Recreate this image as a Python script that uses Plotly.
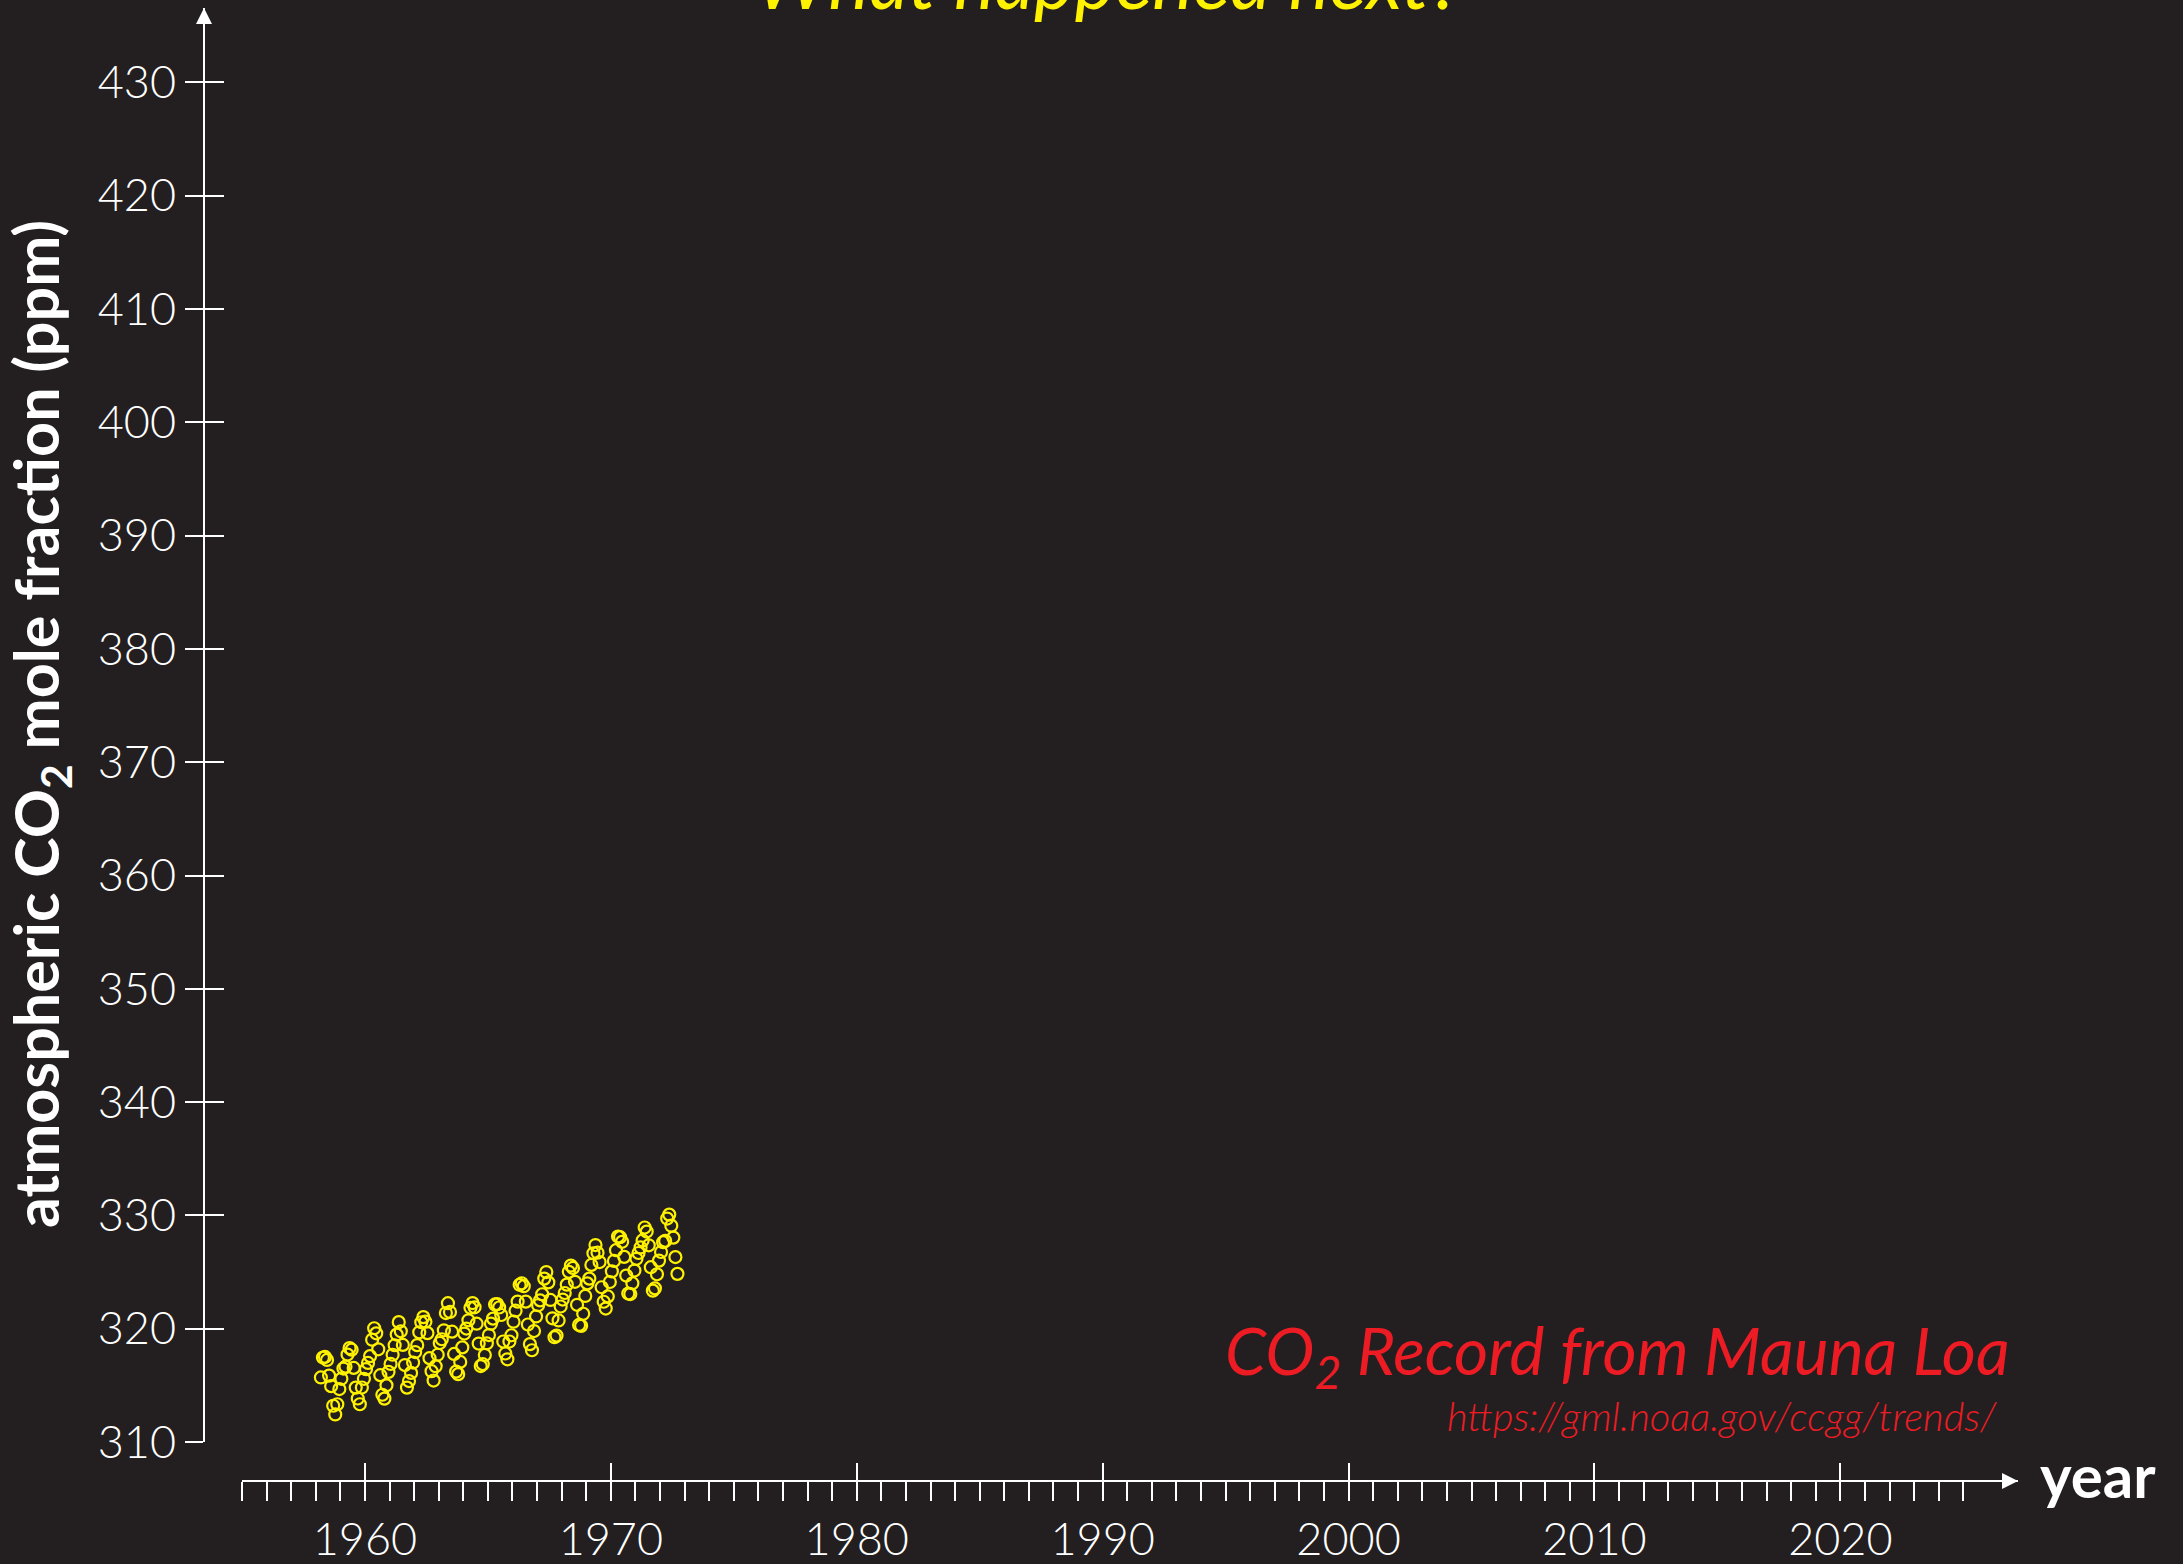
import plotly.graph_objects as go

# Monthly mean atmospheric CO2 at Mauna Loa (ppm)
co2_1958 = [315.70, 317.45, 317.51, 317.24, 315.86, 314.93, 313.20, 312.43, 313.33, 314.67]  # Mar-Dec
co2_1959 = [315.58, 316.48, 316.65, 317.72, 318.29, 318.15, 316.54, 314.80, 313.84, 313.33, 314.81, 315.58]
co2_1960 = [316.43, 316.98, 317.58, 319.03, 320.04, 319.59, 318.18, 315.90, 314.17, 313.83, 315.00, 316.19]
co2_1961 = [316.89, 317.70, 318.54, 319.48, 320.58, 319.77, 318.57, 316.79, 314.80, 315.38, 316.10, 317.01]
co2_1962 = [317.94, 318.55, 319.68, 320.57, 321.02, 320.62, 319.61, 317.40, 316.25, 315.42, 316.69, 317.70]
co2_1963 = [318.74, 319.07, 319.86, 321.38, 322.25, 321.48, 319.74, 317.77, 316.21, 315.99, 317.07, 318.35]
co2_1964 = [319.57, 320.01, 320.74, 321.84, 322.26, 321.89, 320.44, 318.69, 316.70, 316.87, 317.68, 318.71]
co2_1965 = [319.44, 320.44, 320.89, 322.14, 322.17, 321.87, 321.21, 318.87, 317.81, 317.30, 318.87, 319.42]
co2_1966 = [320.62, 321.59, 322.39, 323.87, 324.01, 323.75, 322.39, 320.37, 318.64, 318.10, 319.79, 321.08]
co2_1967 = [322.07, 322.50, 323.04, 324.42, 325.00, 324.09, 322.54, 320.92, 319.25, 319.39, 320.73, 321.96]
co2_1968 = [322.57, 323.15, 323.89, 325.02, 325.57, 325.36, 324.14, 322.11, 320.33, 320.25, 321.32, 322.89]
co2_1969 = [324.00, 324.42, 325.63, 326.66, 327.38, 326.71, 325.88, 323.66, 322.38, 321.78, 322.85, 324.12]
co2_1970 = [325.06, 325.98, 326.93, 328.13, 328.08, 327.67, 326.34, 324.69, 323.10, 323.06, 324.01, 325.13]
co2_1971 = [326.17, 326.68, 327.17, 327.79, 328.93, 328.57, 327.36, 325.43, 323.36, 323.56, 324.80, 326.01]
co2_1972 = [326.77, 327.63, 327.75, 329.72, 330.07, 329.09, 328.04, 326.32, 324.84]  # Jan-Sep

years = list(range(1958, 1973))
yearly = [co2_1958, co2_1959, co2_1960, co2_1961, co2_1962, co2_1963, co2_1964, co2_1965,
          co2_1966, co2_1967, co2_1968, co2_1969, co2_1970, co2_1971, co2_1972]
first_month = {1958: 3}

# Axis ticks
y_ticks = list(range(310, 431, 10))
x_major = list(range(1960, 2021, 10))
x_minor = list(range(1955, 2026))

# Decimal dates at mid-month
dates, ppm = [], []
for yr, vals in zip(years, yearly):
    m0 = first_month.get(yr, 1)
    for i, v in enumerate(vals):
        dates.append(yr + (m0 + i - 0.5) / 12.0)
        ppm.append(v)

BG = "#231f20"
FG = "#ffffff"
YELLOW = "#fff200"
RED = "#ed1c24"
FONT = "Lato"

W, H = 2183, 1564
ML, MR, MT, MB = 204, 165, 8, 83
PW, PH = W - ML - MR, H - MT - MB
x_dom = [38 / PW, 1]
y_dom = [39 / PH, 1]
x_rng = [1955, 1955 + (PW - 38) / 24.59]
y_rng = [310, 310 + (PH - 39) / 11.33]

fig = go.Figure()
fig.add_trace(go.Scatter(
    x=dates, y=ppm, mode="markers",
    marker=dict(symbol="circle-open", size=12, color=YELLOW, line=dict(width=2.2, color=YELLOW)),
    showlegend=False, hoverinfo="skip",
))
# helper trace so the overlay axes (crossing tick halves) are drawn
fig.add_trace(go.Scatter(x=[], y=[], xaxis="x2", yaxis="y2", showlegend=False, hoverinfo="skip"))

tickfont = dict(family=FONT, size=45, color=FG, weight=300)

fig.update_layout(
    width=W, height=H,
    paper_bgcolor=BG, plot_bgcolor=BG,
    margin=dict(l=ML, r=MR, t=MT, b=MB, pad=0, autoexpand=False),
    showlegend=False,
    xaxis=dict(
        domain=x_dom, range=x_rng, anchor="free", position=0, automargin=False,
        showline=True, linecolor=FG, linewidth=2,
        tickmode="array", tickvals=x_major, ticktext=[str(v) for v in x_major],
        ticks="outside", ticklen=19, tickwidth=2, tickcolor=FG,
        tickfont=tickfont, ticklabelstandoff=0,
        minor=dict(tickmode="array", tickvals=x_minor, ticks="outside", ticklen=19,
                   tickwidth=2, tickcolor=FG, showgrid=False),
        showgrid=False, zeroline=False,
    ),
    xaxis2=dict(
        domain=x_dom, range=x_rng, anchor="free", position=0, overlaying="x", automargin=False,
        showline=False, tickmode="array", tickvals=x_major,
        ticks="inside", ticklen=18, tickwidth=2, tickcolor=FG,
        showticklabels=False, showgrid=False, zeroline=False,
    ),
    yaxis=dict(
        domain=y_dom, range=y_rng, anchor="free", position=0, automargin=False,
        showline=True, linecolor=FG, linewidth=2,
        tickmode="array", tickvals=y_ticks, ticktext=[str(v) for v in y_ticks],
        ticks="outside", ticklen=18, tickwidth=2, tickcolor=FG,
        tickfont=tickfont, ticklabelstandoff=0,
        showgrid=False, zeroline=False,
    ),
    yaxis2=dict(
        domain=y_dom, range=y_rng, anchor="free", position=0, overlaying="y", automargin=False,
        showline=False, tickmode="array", tickvals=y_ticks,
        ticks="inside", ticklen=19, tickwidth=2, tickcolor=FG,
        showticklabels=False, showgrid=False, zeroline=False,
    ),
)

# arrowheads closing both axis lines (sized in pixels around the axis ends)
fig.add_shape(type="path", xref="paper", yref="paper",
              xsizemode="pixel", ysizemode="pixel", xanchor=0, yanchor=1,
              path="M -8 -16 L 0 0 L 8 -16 Z", fillcolor=FG, line=dict(width=0))
fig.add_shape(type="path", xref="paper", yref="paper",
              xsizemode="pixel", ysizemode="pixel", xanchor=1, yanchor=0,
              path="M -16 -8 L 0 0 L -16 8 Z", fillcolor=FG, line=dict(width=0))

annotations = [
    # axis titles
    dict(xref="paper", yref="paper", x=1, y=0, xanchor="left", yanchor="middle",
         xshift=20, yshift=6, text="<b>year</b>", showarrow=False,
         font=dict(family=FONT, size=60, color=FG)),
    dict(xref="paper", yref="paper", x=0, y=(H - MB - 724) / PH, xanchor="center", yanchor="middle",
         xshift=40 - ML, text="<b>atmospheric CO<sub>2</sub> mole fraction (ppm)</b>",
         textangle=-90, showarrow=False, font=dict(family=FONT, size=61, color=FG)),
    # headline
    dict(xref="paper", yref="paper", x=(1108 - ML) / PW, y=1, xanchor="center", yanchor="bottom",
         yshift=-19, text="<i>What happened next?</i>", showarrow=False,
         font=dict(family=FONT, size=77, color=YELLOW)),
    # source note
    dict(xref="paper", yref="paper", x=(2012 - ML) / PW, y=(H - MB - 1354) / PH,
         xanchor="right", yanchor="middle",
         text="<i>CO<sub>2</sub> Record from Mauna Loa</i>", showarrow=False,
         font=dict(family=FONT, size=66, color=RED)),
    dict(xref="paper", yref="paper", x=(1999 - ML) / PW, y=(H - MB - 1416) / PH,
         xanchor="right", yanchor="middle",
         text="<i>https://gml.noaa.gov/ccgg/trends/</i>", showarrow=False,
         font=dict(family=FONT, size=40, color=RED, weight=300)),
]
fig.update_layout(annotations=annotations)

fig.write_html("out.html")
